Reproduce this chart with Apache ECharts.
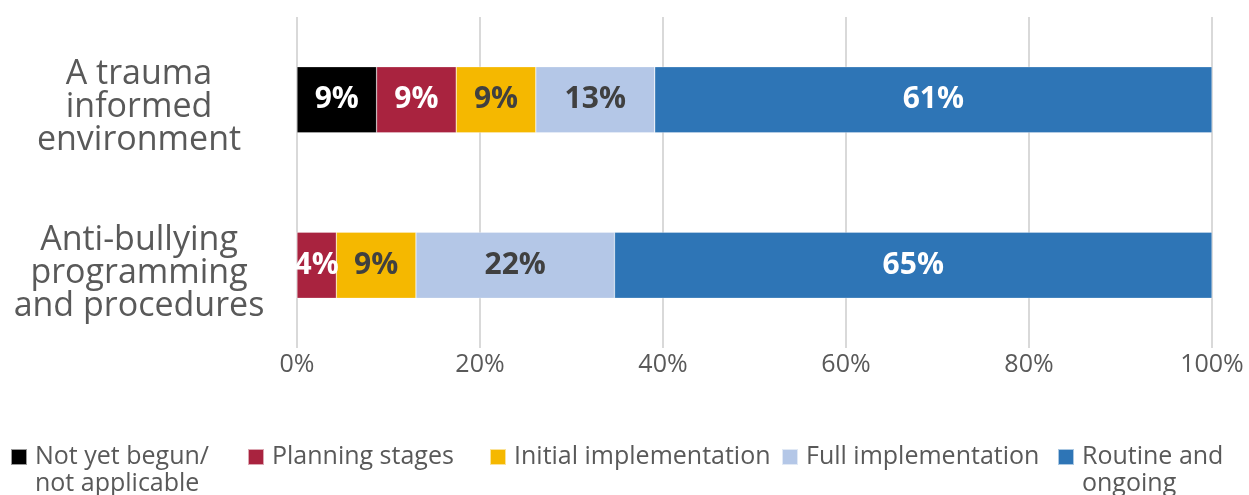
<!DOCTYPE html>
<html>
<head>
<meta charset="utf-8">
<script src="https://cdn.jsdelivr.net/npm/echarts@6/dist/echarts.min.js"></script>
<style>
  html, body { margin: 0; padding: 0; background: #ffffff; }
  #chart { width: 1249px; height: 495px; }
</style>
</head>
<body>
<div id="chart"></div>
<script>
// Implementation stage shares (%) for each practice area
const categories = ['A trauma\ninformed\nenvironment', 'Anti-bullying\nprogramming\nand procedures'];
const stageNames = ['Not yet begun/\nnot applicable', 'Planning stages', 'Initial implementation', 'Full implementation', 'Routine and\nongoing'];
const notYetBegun = [8.7, 0];
const planning = [8.7, 4.3];
const initialImpl = [8.7, 8.7];
const fullImpl = [13.0, 21.7];
const routine = [60.9, 65.3];
const tickLabels = ['0%', '20%', '40%', '60%', '80%', '100%'];

const stageValues = [notYetBegun, planning, initialImpl, fullImpl, routine];
const stageColors = ['#000000', '#A9233F', '#F5B800', '#B4C7E7', '#2E75B6'];
const labelColors = ['#ffffff', '#ffffff', '#404040', '#404040', '#ffffff'];
const legendLeft = [10, 247, 489, 781, 1057];

const FONT = '"Open Sans", sans-serif';
const LEGEND_LINE = 27;
const LEGEND_ICON_CENTER = 457;

const series = stageNames.map((name, i) => ({
  name: name,
  type: 'bar',
  stack: 'total',
  barWidth: '40%',
  data: stageValues[i],
  itemStyle: { color: stageColors[i], borderColor: 'rgba(255,255,255,0.6)', borderWidth: 0.5 },
  label: {
    show: true,
    position: 'inside',
    color: labelColors[i],
    fontFamily: FONT,
    fontWeight: 'bold',
    fontSize: 30,
    formatter: p => p.value > 0 ? Math.round(p.value) + '%' : ''
  },
  emphasis: { disabled: true }
}));

// One legend per entry so each sits at its own column. Two-line names get an
// empty leading line, so the middle row (their first line) sits level with the swatch.
const legends = stageNames.map((name, i) => {
  const multi = name.indexOf('\n') >= 0;
  return {
    left: legendLeft[i],
    top: multi ? LEGEND_ICON_CENTER - LEGEND_LINE * 1.5 : LEGEND_ICON_CENTER - LEGEND_LINE / 2,
    padding: 0,
    orient: 'horizontal',
    icon: 'rect',
    itemWidth: 16,
    itemHeight: 16,
    itemGap: 0,
    selectedMode: false,
    data: [name],
    formatter: n => (multi ? '\n' : '') + n,
    textStyle: {
      fontFamily: FONT,
      fontSize: 25,
      color: '#595959',
      lineHeight: LEGEND_LINE,
      padding: [0, 0, 0, 3]
    }
  };
});

const chart = echarts.init(document.getElementById('chart'), null, { renderer: 'canvas' });
chart.setOption({
  animation: false,
  backgroundColor: '#ffffff',
  legend: legends,
  grid: { left: 297, right: 37, top: 17, bottom: 147, containLabel: false },
  xAxis: {
    type: 'value',
    min: 0,
    max: 100,
    interval: 20,
    axisLine: { show: false },
    axisTick: { show: false },
    splitLine: { show: true, lineStyle: { color: '#D9D9D9', width: 2 } },
    axisLabel: {
      fontFamily: FONT,
      fontSize: 25,
      color: '#595959',
      margin: 4,
      formatter: v => tickLabels[v / 20]
    }
  },
  yAxis: {
    type: 'category',
    inverse: true,
    data: categories,
    axisLine: { show: false },
    axisTick: { show: false },
    axisLabel: {
      fontFamily: FONT,
      fontSize: 34,
      color: '#595959',
      lineHeight: 33,
      align: 'center',
      margin: 158,
      // small spacer row on top nudges the three-line block slightly below the band centre
      formatter: v => '{gap|}\n' + v,
      rich: { gap: { height: 16, lineHeight: 16 } }
    }
  },
  series: series
});
</script>
</body>
</html>
